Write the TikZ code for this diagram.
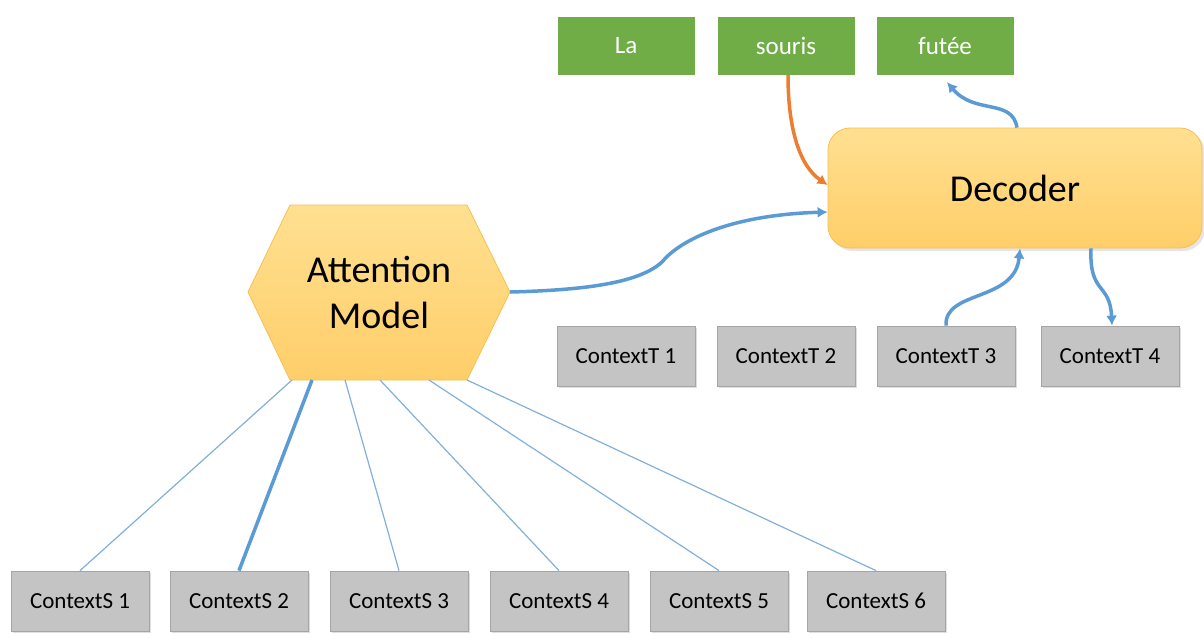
\documentclass[tikz,border=0pt]{standalone}
\usepackage{fontspec}
\setmainfont{Carlito}
\usetikzlibrary{arrows.meta,shadows,shapes.misc}
\definecolor{grn}{RGB}{112,173,71}
\definecolor{gryfill}{RGB}{196,196,196}
\definecolor{gryedge}{RGB}{165,165,165}
\definecolor{bluearr}{RGB}{91,155,213}
\definecolor{bluethin}{RGB}{130,176,218}
\definecolor{orgarr}{RGB}{237,125,49}
\definecolor{yeltop}{RGB}{255,224,145}
\definecolor{yelbot}{RGB}{255,206,105}
\definecolor{yeledge}{RGB}{245,192,84}
\tikzset{
  wordbox/.style={fill=grn, text=white, minimum width=137pt, minimum height=58pt, inner sep=0pt, font=\fontsize{25}{30}\selectfont},
  ctxbox/.style={fill=gryfill, draw=gryedge, line width=0.8pt, minimum width=138pt, minimum height=60pt, inner sep=0pt,
    font=\fontsize{23}{28}\selectfont, drop shadow={shadow xshift=2pt, shadow yshift=-2pt, opacity=0.25}},
  decbox/.style={rounded corners=22pt, top color=yeltop, bottom color=yelbot, draw=yeledge, line width=0.8pt,
    minimum width=374pt, minimum height=120pt, inner sep=0pt, font=\fontsize{38}{44}\selectfont,
    drop shadow={shadow xshift=3pt, shadow yshift=-3pt, opacity=0.2}},
  flow/.style={draw=bluearr, line width=3.5pt, -{Latex[length=10pt,width=11pt]}},
  oflow/.style={draw=orgarr, line width=3.5pt, -{Latex[length=10pt,width=11pt]}},
  thin/.style={draw=bluethin, line width=1.2pt},
  thick/.style={draw=bluearr, line width=3.5pt},
}
\begin{document}
\begin{tikzpicture}[x=1pt,y=-1pt]
\useasboundingbox[fill=white] (0,0) rectangle (1204,633);

% green word boxes
\node[wordbox] (la) at (626,46) {La};
\node[wordbox] (souris) at (786,46) {souris};
\node[wordbox] (futee) at (945,46) {futée};

% decoder
\node[decbox] (dec) at (1015,188) {Decoder};

% hexagon attention model
\coordinate (h1) at (290,205);
\coordinate (h2) at (467,205);
\coordinate (h3) at (510,292);
\coordinate (h4) at (467,380);
\coordinate (h5) at (290,380);
\coordinate (h6) at (248,292);
\shade[top color=yeltop, bottom color=yelbot, draw=yeledge, line width=0.8pt]
  (h1) -- (h2) -- (h3) -- (h4) -- (h5) -- (h6) -- cycle;
\node[align=center, font=\fontsize{38}{46}\selectfont] (att) at (379,292) {Attention\\Model};

% target contexts
\node[ctxbox] (t1) at (626,356) {ContextT 1};
\node[ctxbox] (t2) at (786,356) {ContextT 2};
\node[ctxbox] (t3) at (946,356) {ContextT 3};
\node[ctxbox] (t4) at (1110,356) {ContextT 4};

% source contexts
\node[ctxbox] (s1) at (80,601) {ContextS 1};
\node[ctxbox] (s2) at (239,601) {ContextS 2};
\node[ctxbox] (s3) at (399,601) {ContextS 3};
\node[ctxbox] (s4) at (559,601) {ContextS 4};
\node[ctxbox] (s5) at (719,601) {ContextS 5};
\node[ctxbox] (s6) at (876,601) {ContextS 6};

% attention lines from bottom edge of hexagon
\coordinate (b1) at (292,380);
\coordinate (b2) at (312,380);
\coordinate (b3) at (345,380);
\coordinate (b4) at (380,380);
\coordinate (b5) at (429,380);
\coordinate (b6) at (467,380);
\draw[thin] (b1) -- (s1.north);
\draw[thick] (b2) -- (s2.north);
\draw[thin] (b3) -- (s3.north);
\draw[thin] (b4) -- (s4.north);
\draw[thin] (b5) -- (s5.north);
\draw[thin] (b6) -- (s6.north);

% arrows
\coordinate (dl1) at ([yshift=-24pt]dec.west);
\draw[flow] (h3) .. controls (590,290) and (640,282) .. (662,262)
  .. controls (680,240) and (730,215) .. (dl1);
\coordinate (dl2) at ([yshift=3pt]dec.west);
\draw[oflow] ([xshift=2pt]souris.south) .. controls (788,130) and (800,166) .. (dl2);
\coordinate (dt) at ([xshift=2pt]dec.north);
\draw[flow] (dt) .. controls (1012,98) and (975,115) .. ([xshift=2pt,yshift=-7pt]futee.south);
\coordinate (db1) at ([xshift=5pt]dec.south);
\draw[flow] (t3.north) .. controls (944,290) and (1015,302) .. (db1);
\coordinate (db2) at ([xshift=76pt]dec.south);
\draw[flow] (db2) .. controls (1089,295) and (1110,282) .. ([xshift=2pt]t4.north);
\end{tikzpicture}
\end{document}
